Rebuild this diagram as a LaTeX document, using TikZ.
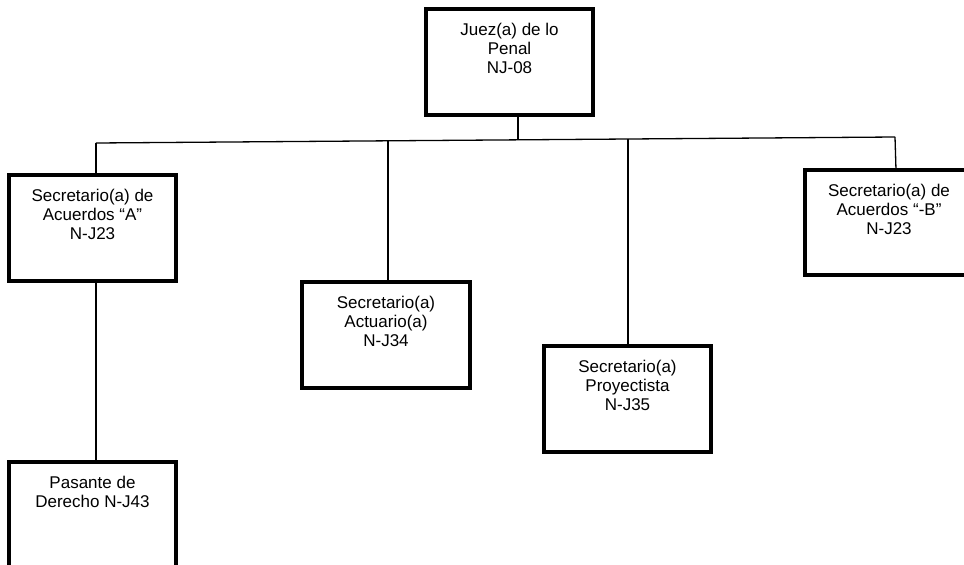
\documentclass[tikz,border=0pt]{standalone}
\usepackage{fontspec}
\setmainfont{Liberation Sans}
\begin{document}
\begin{tikzpicture}[x=1pt,y=-1pt,
  orgbox/.style={draw, line width=4.8pt, inner sep=0pt, minimum width=167pt, minimum height=106pt},
  lbl/.style={anchor=north, inner sep=0pt, align=center, font=\fontsize{17}{19}\selectfont},
  conn/.style={line width=1.3pt}]
\useasboundingbox (0,0) rectangle (964,565);
% boxes
\node[orgbox] (j) at (509.5,62) {};
\node[orgbox] (a) at (92.5,228) {};
\node[orgbox, minimum width=168pt] (act) at (386,335) {};
\node[orgbox] (pro) at (627.5,399) {};
\node[orgbox, minimum width=168pt, minimum height=105pt] (b) at (889,222.5) {};
\node[orgbox, minimum height=112pt] (pas) at (92.5,518) {};
% labels
\node[lbl] (jt) at ([yshift=-16pt]j.north) {Juez(a) de lo\\Penal\\NJ-08};
\node[lbl] (at) at ([yshift=-16pt]a.north) {Secretario(a) de\\Acuerdos “A”\\N-J23};
\node[lbl] (actt) at ([yshift=-16pt]act.north) {Secretario(a)\\Actuario(a)\\N-J34};
\node[lbl] (prot) at ([yshift=-16pt]pro.north) {Secretario(a)\\Proyectista\\N-J35};
\node[lbl] (bt) at ([yshift=-16pt]b.north) {Secretario(a) de\\Acuerdos “-B”\\N-J23};
\node[lbl] (past) at ([yshift=-16pt]pas.north) {Pasante de\\Derecho N-J43};
% connectors
\coordinate (jd) at (518,115);
\coordinate (jbus) at (518,140);
\coordinate (busA) at (96,143);
\coordinate (busAct) at (388,141);
\coordinate (busPro) at (628,139);
\coordinate (busB) at (895,137);
\coordinate (aTop) at (96,175);
\coordinate (aBot) at (96,281);
\coordinate (actTop) at (388,282);
\coordinate (proTop) at (628,346);
\coordinate (bTop) at (896,170);
\coordinate (pasTop) at (96,462);
\draw[conn] (jd) -- (jbus);
\draw[conn] (busA) -- (busB);
\draw[conn] (busA) -- (aTop);
\draw[conn] (busAct) -- (actTop);
\draw[conn] (busPro) -- (proTop);
\draw[conn] (busB) -- (bTop);
\draw[conn] (aBot) -- (pasTop);
\end{tikzpicture}
\end{document}
